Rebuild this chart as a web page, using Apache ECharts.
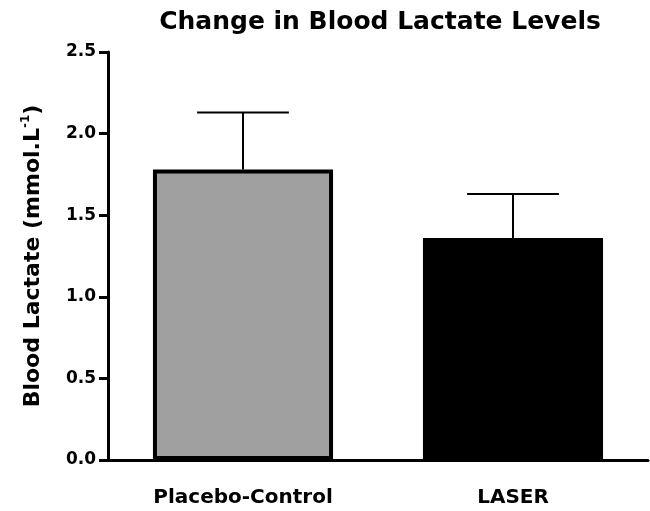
<!DOCTYPE html>
<html>
<head>
<meta charset="utf-8">
<script src="https://cdn.jsdelivr.net/npm/echarts@6/dist/echarts.min.js"></script>
<style>html,body{margin:0;padding:0;background:#fff}#c{width:650px;height:511px}</style>
</head>
<body>
<div id="c"></div>
<script>
var categories = ['Placebo-Control', 'LASER'];
var means = [1.78, 1.36];
var errors = [0.35, 0.27];
var barColors = ['#a0a0a0', '#000000'];
var yTicks = [0, 0.5, 1.0, 1.5, 2.0, 2.5];

var FONT = 'DejaVu Sans';
var chart = echarts.init(document.getElementById('c'));
chart.setOption({
  animation: false,
  backgroundColor: '#ffffff',
  title: {
    text: 'Change in Blood Lactate Levels',
    left: 375, textAlign: 'center', top: 5,
    textStyle: {fontFamily: FONT, fontWeight: 'bold', fontSize: 25, color: '#000'}
  },
  grid: {left: 108, right: 2, top: 52, bottom: 51},
  xAxis: {
    type: 'category',
    data: categories,
    axisLine: {lineStyle: {color: '#000', width: 3}},
    axisTick: {alignWithLabel: true, length: 8, lineStyle: {color: '#000', width: 3}},
    axisLabel: {fontFamily: FONT, fontWeight: 'bold', fontSize: 20, color: '#000', margin: 28}
  },
  yAxis: {
    type: 'value',
    min: yTicks[0], max: yTicks[yTicks.length - 1], interval: 0.5,
    splitLine: {show: false},
    axisLine: {show: true, lineStyle: {color: '#000', width: 3}},
    axisTick: {show: true, length: 9, lineStyle: {color: '#000', width: 3}},
    axisLabel: {fontFamily: FONT, fontWeight: 'bold', fontSize: 17, color: '#000', margin: 12,
      formatter: function (v) { return v.toFixed(1); }},
    name: '{a|Blood Lactate (mmol.L}{s|-1}{a|)}',
    nameLocation: 'middle',
    nameGap: 62,
    nameTextStyle: {
      rich: {
        a: {fontFamily: FONT, fontWeight: 'bold', fontSize: 22, color: '#000', lineHeight: 26},
        s: {fontFamily: FONT, fontWeight: 'bold', fontSize: 12, color: '#000', verticalAlign: 'top', lineHeight: 26}
      }
    }
  },
  series: [
    {
      type: 'bar',
      barCategoryGap: '33.3%',
      data: means.map(function (v, i) {
        return {value: v, itemStyle: {color: barColors[i], borderColor: '#000', borderWidth: 4}};
      }),
      z: 3
    },
    {
      type: 'custom',
      z: 2,
      data: means.map(function (v, i) { return [i, v, v + errors[i]]; }),
      renderItem: function (params, api) {
        var x = api.value(0);
        var p0 = api.coord([x, api.value(1)]);
        var p1 = api.coord([x, api.value(2)]);
        var half = api.size([1, 0])[0] * 0.17;
        var st = {stroke: '#000', lineWidth: 2};
        return {type: 'group', children: [
          {type: 'line', shape: {x1: p0[0], y1: p0[1], x2: p1[0], y2: p1[1]}, style: st},
          {type: 'line', shape: {x1: p1[0] - half, y1: p1[1], x2: p1[0] + half, y2: p1[1]}, style: st}
        ]};
      }
    }
  ]
});
</script>
</body>
</html>
